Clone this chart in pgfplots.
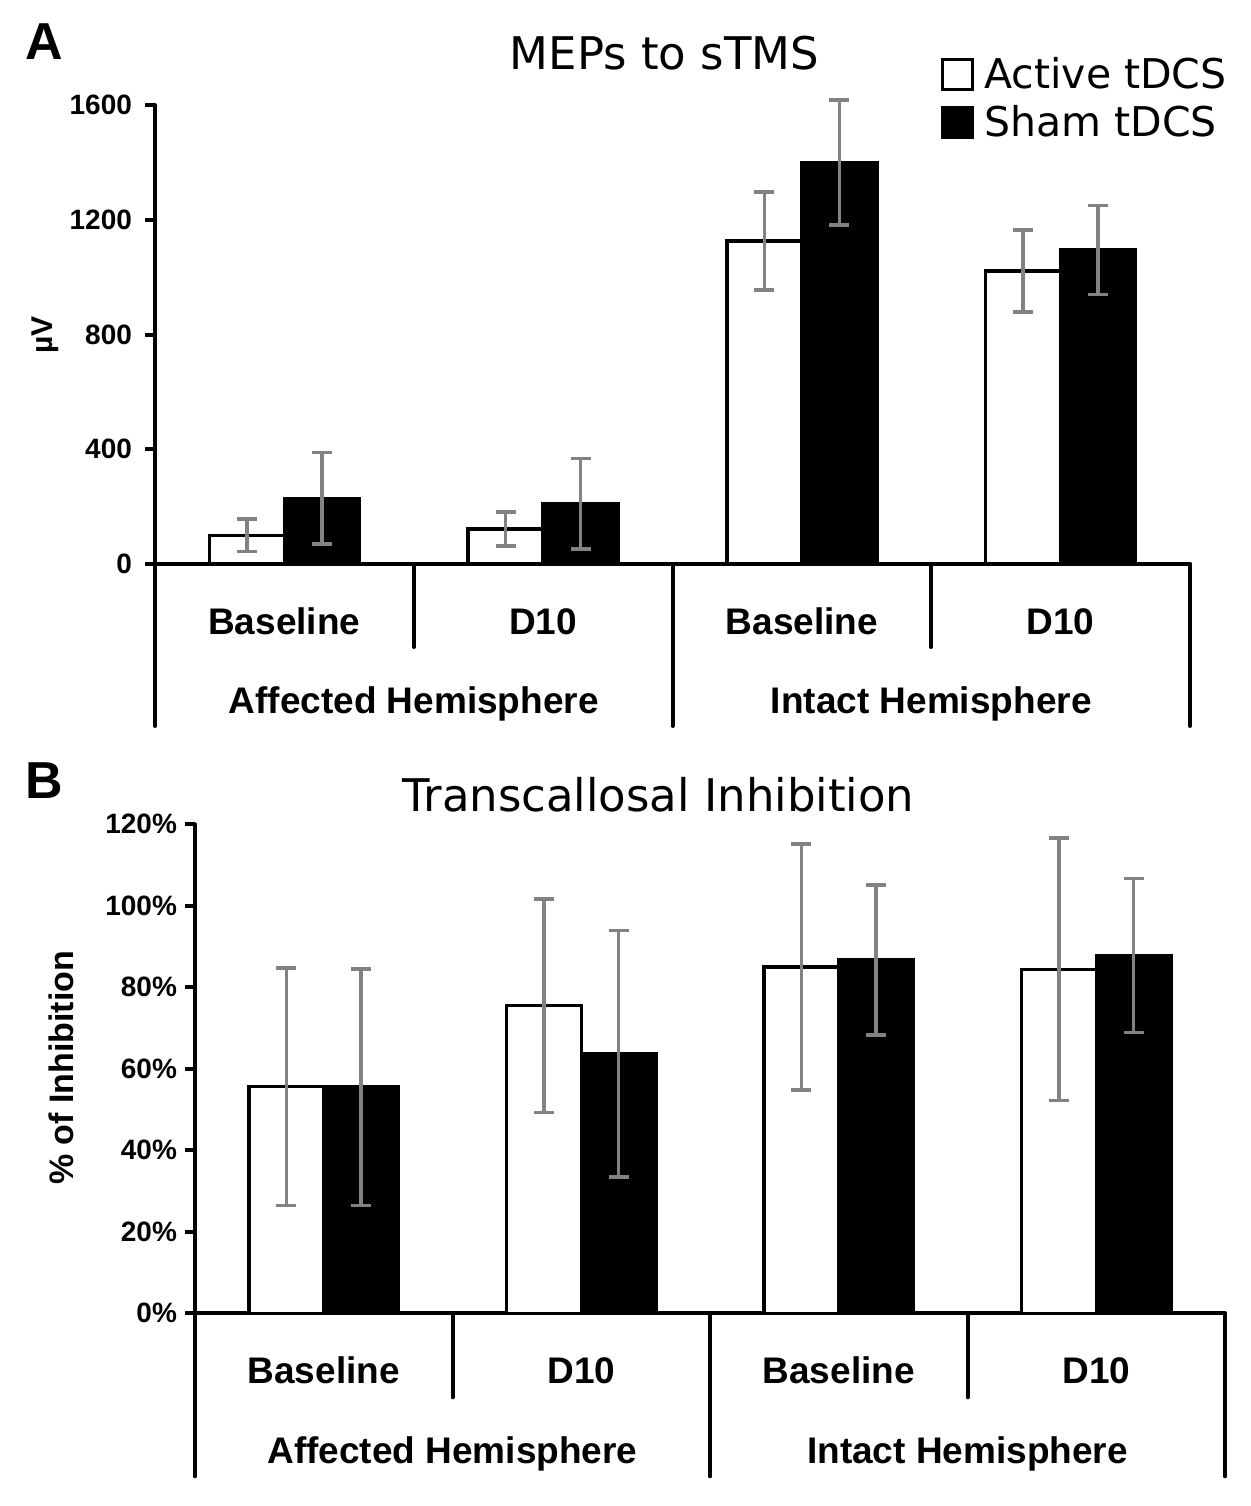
\documentclass[border=0pt]{standalone}
\usepackage{fontspec}
\setmainfont{Liberation Sans}
\newfontfamily\verd{DejaVu Sans}
\usepackage{pgfplots}
\usepackage{pgfplotstable}
\pgfplotsset{compat=1.18}
\definecolor{errgray}{RGB}{130,130,130}

\pgfplotstableread{
x   y     e
0.5 100   57
1.5 122   60
2.5 1126  171
3.5 1022  143
}\AActive
\pgfplotstableread{
x   y     e
0.5 229   160
1.5 210   158
2.5 1400  218
3.5 1095  155
}\ASham
\pgfplotstableread{
x   y     e
0.5 55.6  29.1
1.5 75.5  26.2
2.5 85.0  30.2
3.5 84.4  32.2
}\BActive
\pgfplotstableread{
x   y     e
0.5 55.5  29.0
1.5 63.7  30.2
2.5 86.7  18.4
3.5 87.8  18.9
}\BSham

\newcommand\catfont{\bfseries\fontsize{18.5}{20}\selectfont}
\newcommand\ticfont{\bfseries\fontsize{14}{15}\selectfont}

\tikzset{sepline/.style={line width=2pt, line cap=round}}

\pgfplotsset{
  mybars/.style={
    scale only axis, ybar, bar width=0.29,
    xmin=0, xmax=4, ymin=0, clip=false,
    axis lines*=left,
    axis line style={line width=2pt, line cap=round},
    xtick=\empty,
    tick align=outside, major tick length=5pt,
    ytick style={line width=2pt, black},
    /pgf/number format/assume math mode=true,
    /pgf/number format/1000 sep={},
    yticklabel style={font=\ticfont},
    title style={font=\verd\fontsize{22.5}{26}\selectfont, anchor=base, yshift=-6pt},
  },
  activebar/.style={fill=white, draw=black, line width=1.7pt, bar shift=-0.145, forget plot},
  shambar/.style={fill=black, draw=black, line width=1.7pt, bar shift=0.145, forget plot},
  errbar/.style={error bars/.cd, y dir=both, y explicit,
    error bar style={errgray, line width=1.7pt},
    error mark options={rotate=90, errgray, mark size=5pt, line width=1.8pt}},
}

\begin{document}
\begin{tikzpicture}
\useasboundingbox (0,0) rectangle (625pt,-753pt);

\node[font=\bfseries\fontsize{26}{28}\selectfont, anchor=base] at (22.3pt,-29.5pt) {A};
\node[font=\bfseries\fontsize{26}{28}\selectfont, anchor=base] at (22.3pt,-399pt) {B};

% ---------------- Panel A ----------------
\begin{axis}[mybars,
  at={(77.5pt,-282pt)}, anchor=south west,
  width=517.5pt, height=229.5pt,
  ymax=1600, ytick={0,400,800,1200,1600},
  yticklabel style={xshift=-3pt},
  ylabel={µV},
  ylabel style={font=\bfseries\fontsize{15}{16}\selectfont, at={(rel axis cs:-0.1063,0.499)}, anchor=center},
  title={MEPs to sTMS},
  title style={at={(rel axis cs:0.4923,1.0773)}},
  legend style={at={(rel axis cs:0.7594,1.113)}, anchor=north west, draw=none, fill=none,
    font=\verd\fontsize{20.5}{24}\selectfont, inner sep=0pt, row sep=3pt,
    nodes={inner sep=2pt}, /tikz/every odd column/.append style={column sep=3pt}},
  legend cell align=left,
]
\addplot[activebar, errbar] table[x=x, y=y, y error=e] {\AActive};
\addplot[shambar, errbar] table[x=x, y=y, y error=e] {\ASham};
\addlegendimage{legend image code/.code={\draw[fill=white,draw=black,line width=1.5pt] (0pt,-7.5pt) rectangle (15pt,7.5pt);}}
\addlegendentry{Active tDCS}
\addlegendimage{legend image code/.code={\draw[fill=black,draw=black,line width=1.5pt] (0pt,-7.5pt) rectangle (15pt,7.5pt);}}
\addlegendentry{Sham tDCS}

\draw[sepline] (axis cs:0,0) -- ++(0,-81pt);
\draw[sepline] (axis cs:2,0) -- ++(0,-81pt);
\draw[sepline] (axis cs:4,0) -- ++(0,-81pt);
\draw[sepline] (axis cs:1,0) -- ++(0,-41.5pt);
\draw[sepline] (axis cs:3,0) -- ++(0,-41.5pt);
\node[font=\catfont, anchor=base, yshift=-35pt] at (axis cs:0.5,0) {Baseline};
\node[font=\catfont, anchor=base, yshift=-35pt] at (axis cs:1.5,0) {D10};
\node[font=\catfont, anchor=base, yshift=-35pt] at (axis cs:2.5,0) {Baseline};
\node[font=\catfont, anchor=base, yshift=-35pt] at (axis cs:3.5,0) {D10};
\node[font=\catfont, anchor=base, yshift=-74.5pt] at (axis cs:1,0) {Affected Hemisphere};
\node[font=\catfont, anchor=base, yshift=-74.5pt] at (axis cs:3,0) {Intact Hemisphere};
\end{axis}

% ---------------- Panel B ----------------
\begin{axis}[mybars,
  at={(97.5pt,-656.65pt)}, anchor=south west,
  width=515pt, height=244.5pt,
  ymax=120, ytick={0,20,40,60,80,100,120},
  yticklabel={\pgfmathprintnumber{\tick}\%},
  yticklabel style={xshift=-0.5pt},
  ylabel={\% of Inhibition},
  ylabel style={font=\bfseries\fontsize{17}{18}\selectfont, at={(rel axis cs:-0.1296,0.502)}, anchor=center},
  title={Transcallosal Inhibition},
  title style={at={(rel axis cs:0.450,1.0258)}},
]
\addplot[activebar, errbar] table[x=x, y=y, y error=e] {\BActive};
\addplot[shambar, errbar] table[x=x, y=y, y error=e] {\BSham};

\draw[sepline] (axis cs:0,0) -- ++(0,-81.5pt);
\draw[sepline] (axis cs:2,0) -- ++(0,-81.5pt);
\draw[sepline] (axis cs:4,0) -- ++(0,-81.5pt);
\draw[sepline] (axis cs:1,0) -- ++(0,-42pt);
\draw[sepline] (axis cs:3,0) -- ++(0,-42pt);
\node[font=\catfont, anchor=base, yshift=-35pt] at (axis cs:0.5,0) {Baseline};
\node[font=\catfont, anchor=base, yshift=-35pt] at (axis cs:1.5,0) {D10};
\node[font=\catfont, anchor=base, yshift=-35pt] at (axis cs:2.5,0) {Baseline};
\node[font=\catfont, anchor=base, yshift=-35pt] at (axis cs:3.5,0) {D10};
\node[font=\catfont, anchor=base, yshift=-75pt] at (axis cs:1,0) {Affected Hemisphere};
\node[font=\catfont, anchor=base, yshift=-75pt] at (axis cs:3,0) {Intact Hemisphere};
\end{axis}
\end{tikzpicture}
\end{document}
